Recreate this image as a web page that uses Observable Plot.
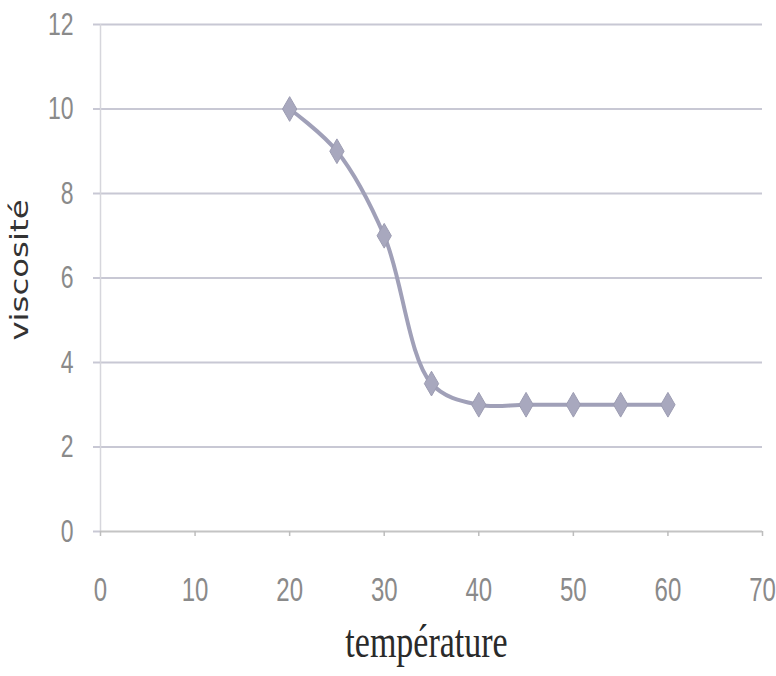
<!DOCTYPE html>
<html><head><meta charset="utf-8">
<script src="https://cdn.jsdelivr.net/npm/d3@7"></script>
<script src="https://cdn.jsdelivr.net/npm/@observablehq/plot@0.6"></script>
<style>body{margin:0;background:#fff}</style>
</head><body><div id="chart"></div>
<script>
const temperature = [20, 25, 30, 35, 40, 45, 50, 55, 60];
const viscosite = [10, 9, 7, 3.5, 3, 3, 3, 3, 3];
const xTicks = [0, 10, 20, 30, 40, 50, 60, 70];
const yTicks = [0, 2, 4, 6, 8, 10, 12];
const xLabel = "température";
const yLabel = "viscosité";
const data = temperature.map((t, i) => ({t, v: viscosite[i]}));

const plot = Plot.plot({
  width: 776, height: 676,
  marginLeft: 100, marginRight: 14, marginTop: 24, marginBottom: 145,
  style: {background: "#fff", fontFamily: "Liberation Sans, Arial, sans-serif"},
  x: {domain: [0, 70], ticks: xTicks},
  y: {domain: [0, 12], ticks: yTicks},
  marks: [
    Plot.ruleY(yTicks.filter(d => d > 0), {stroke: "#c8c8d4", strokeWidth: 2}),
    Plot.ruleX([0], {stroke: "#d6d6dc", strokeWidth: 1.5}),
    Plot.ruleY([0], {stroke: "#c4c4c4", strokeWidth: 2}),
    Plot.axisY({ticks: yTicks, tickSize: 7, tickPadding: 20, stroke: "#c8c8d4", strokeWidth: 2,
      fontSize: 23, fill: "#8a8a8a", label: null}),
    Plot.axisX({ticks: xTicks, tickSize: 5, tickPadding: 44, stroke: "#bdbdbd", strokeWidth: 1.5,
      fontSize: 24, fill: "#8a8a8a", label: null}),
    Plot.text([xLabel], {text: d => d, frameAnchor: "bottom", dx: -5, dy: 111, lineAnchor: "middle",
      fontFamily: "Liberation Serif, serif", fontSize: 34, fill: "#2a2a2a"}),
    Plot.text([yLabel], {text: d => d, frameAnchor: "left", dx: -80, dy: -8, rotate: -90,
      textAnchor: "middle", lineAnchor: "middle",
      fontFamily: "DejaVu Sans, sans-serif", fontSize: 24, fill: "#333"}),
    Plot.line(data, {x: "t", y: "v", curve: "catmull-rom", stroke: "#a0a0b8", strokeWidth: 4}),
    Plot.dot(data, {x: "t", y: "v", symbol: "diamond", r: 7.5, fill: "#a8a8be", stroke: "#9c9cb2", strokeWidth: 1})
  ]
});
document.getElementById("chart").append(plot);

// the reference is stretched vertically: stretch each text about its centre
const S = 1.35;
plot.querySelectorAll("text").forEach(t => {
  const g = document.createElementNS("http://www.w3.org/2000/svg", "g");
  t.parentNode.insertBefore(g, t);
  g.appendChild(t);
  const r = g.getBoundingClientRect();
  const m = g.parentNode.getScreenCTM();
  const cy = (r.top + r.height / 2 - m.f) / m.d;
  g.setAttribute("transform", `translate(0,${cy}) scale(1,${S}) translate(0,${-cy})`);
});
</script>
</body></html>
